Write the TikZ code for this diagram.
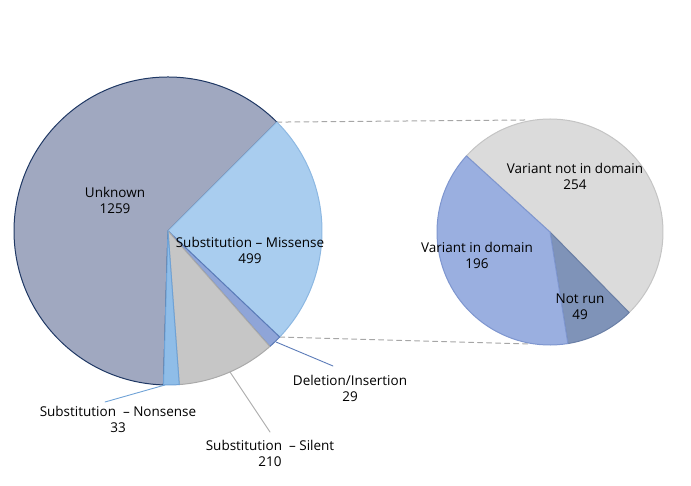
\documentclass[tikz,border=0pt]{standalone}
\usepackage{fontspec}
\setmainfont{Open Sans}
\usetikzlibrary{calc}
\definecolor{unkfill}{HTML}{A0A8C0}
\definecolor{unkline}{HTML}{1F3864}
\definecolor{misfill}{HTML}{A9CDEF}
\definecolor{misline}{HTML}{8DB8E2}
\definecolor{delfill}{HTML}{8FA5D8}
\definecolor{delline}{HTML}{5B7BB8}
\definecolor{silfill}{HTML}{C6C6C6}
\definecolor{silline}{HTML}{AAAAAA}
\definecolor{nonfill}{HTML}{8FBDE8}
\definecolor{nonline}{HTML}{6FA2D6}
\definecolor{outfill}{HTML}{DBDBDB}
\definecolor{outline}{HTML}{C4C4C4}
\definecolor{infill}{HTML}{9AAFE0}
\definecolor{inline}{HTML}{7E96CF}
\definecolor{runfill}{HTML}{7F93B8}
\definecolor{runline}{HTML}{6A7FA6}
\tikzset{
  lbl/.style={align=center, font=\fontsize{13.5}{16}\selectfont, inner sep=1pt},
  leader/.style={line width=0.9pt}
}
\newcommand{\slice}[6]{% center, radius, start, end, fill, line
  \filldraw[fill=#5, draw=#6, line width=1pt, line join=round]
    #1 -- ++(#3:#2) arc[start angle=#3, end angle=#4, radius=#2] -- cycle;}
\begin{document}
\begin{tikzpicture}[line cap=round, x=1pt, y=1pt]
\useasboundingbox (0,0) rectangle (691,486);

% zoom lines
\coordinate (bt) at ($(168,255)+(45:154)$);
\coordinate (bb) at ($(168,255)+(-43.5:154)$);
\coordinate (st) at (525,366);
\coordinate (sb) at (528,142);
\draw[gray!70, dashed, line width=1pt, dash pattern=on 5pt off 4pt] (bt) -- (st);
\draw[gray!70, dashed, line width=1pt, dash pattern=on 5pt off 4pt] (bb) -- (sb);

% big pie
\slice{(168,255)}{154}{45}{268.3}{unkfill}{unkline}
\slice{(168,255)}{154}{45}{-43.5}{misfill}{misline}
\slice{(168,255)}{154}{-43.5}{-48.6}{delfill}{delline}
\slice{(168,255)}{154}{-48.6}{-85.8}{silfill}{silline}
\slice{(168,255)}{154}{-85.8}{-91.7}{nonfill}{nonline}

% small pie
\slice{(550,254)}{113}{137.7}{-45.5}{outfill}{outline}
\slice{(550,254)}{113}{-45.5}{-80.9}{runfill}{runline}
\slice{(550,254)}{113}{-80.9}{-222.3}{infill}{inline}

% labels
\node[lbl] (unknown) at (115,286) {Unknown\\1259};
\node[lbl] (missense) at (250,236) {Substitution -- Missense\\499};
\node[lbl] (notin) at (575,310) {Variant not in domain\\254};
\node[lbl] (indomain) at (477,231) {Variant in domain\\196};
\node[lbl] (notrun) at (580,179) {Not run\\49};
\node[lbl] (deletion) at (350,98) {Deletion/Insertion\\29};
\node[lbl] (nonsense) at (118,67) {Substitution \ -- Nonsense\\33};
\node[lbl] (silent) at (270,33) {Substitution \ -- Silent\\210};

% leaders
\coordinate (delpt) at (276,144);
\coordinate (nonpt) at (165,101);
\coordinate (silpt) at (230,114);
\coordinate (delend) at (333,120);
\coordinate (nonend) at (105,84);
\coordinate (silend) at (270,54);
\draw[leader, delline] (delpt) -- (delend);
\draw[leader, nonline] (nonpt) -- (nonend);
\draw[leader, silline] (silpt) -- (silend);
\end{tikzpicture}
\end{document}
